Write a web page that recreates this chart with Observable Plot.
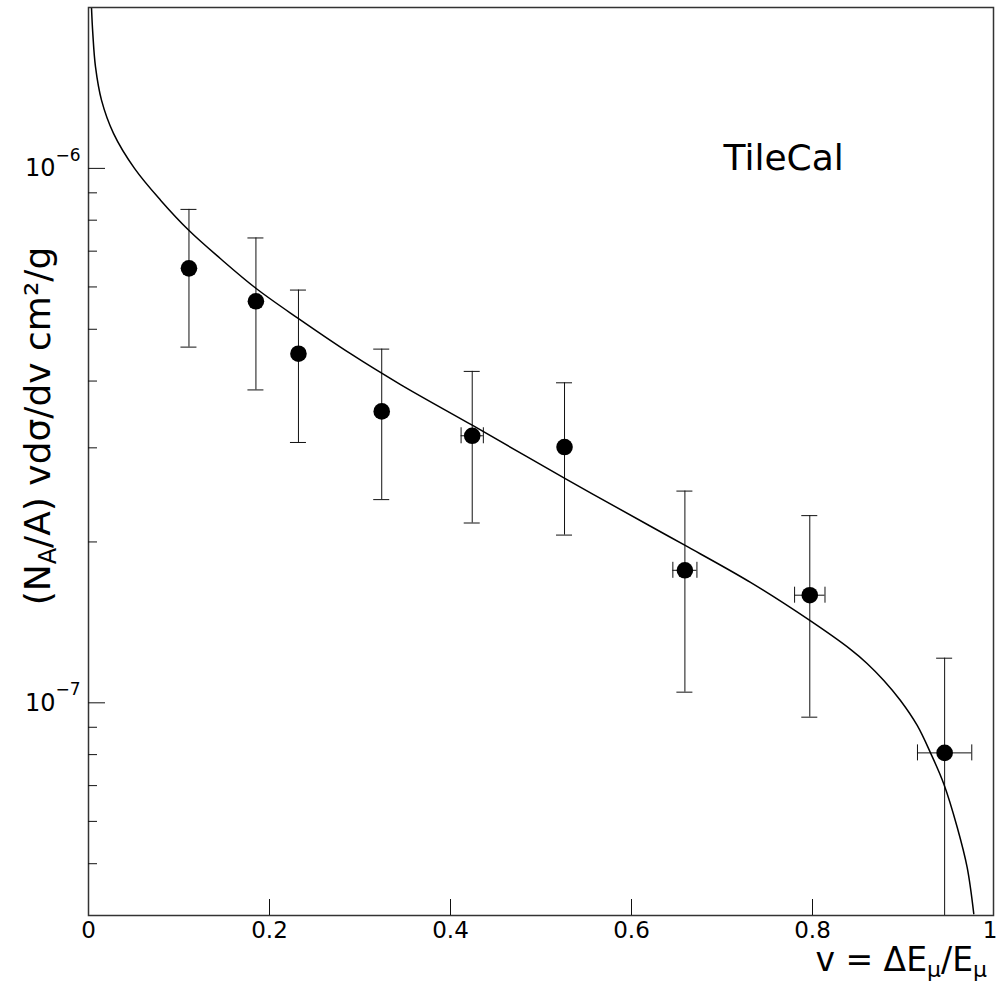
<!DOCTYPE html>
<html>
<head>
<meta charset="utf-8">
<script src="https://cdn.jsdelivr.net/npm/d3@7"></script>
<script src="https://cdn.jsdelivr.net/npm/@observablehq/plot@0.6"></script>
<style>
  html, body { margin: 0; padding: 0; background: #fff; }
  #chart svg { display: block; }
</style>
</head>
<body>
<div id="chart"></div>
<script>
// ---- data ----
const nu     = [0.111, 0.185, 0.232, 0.324, 0.424, 0.526, 0.659, 0.797, 0.946];
const val    = [6.50e-7, 5.64e-7, 4.50e-7, 3.51e-7, 3.16e-7, 3.01e-7, 1.77e-7, 1.59e-7, 8.06e-8];
const errLo  = [4.63e-7, 3.85e-7, 3.07e-7, 2.40e-7, 2.17e-7, 2.06e-7, 1.047e-7, 9.4e-8, 4.0e-8];
const errHi  = [8.38e-7, 7.41e-7, 5.92e-7, 4.59e-7, 4.17e-7, 3.97e-7, 2.49e-7, 2.24e-7, 1.212e-7];
const nuErr  = [0, 0, 0, 0, 0.0123, 0, 0.0133, 0.0168, 0.030];

const curveNu  = [0.0033, 0.00475, 0.0077, 0.01436, 0.02762, 0.05083, 0.0796, 0.1108, 0.1453, 0.1853, 0.2317, 0.2895, 0.3448, 0.424, 0.5263, 0.621, 0.6593, 0.7315, 0.797, 0.842, 0.8603, 0.8788, 0.8972, 0.9157, 0.9304, 0.9451, 0.9599, 0.9709, 0.9782];
const curveVal = [2.0e-6, 1.789e-6, 1.55e-6, 1.342e-6, 1.163e-6, 1.0e-6, 8.72e-7, 7.66e-7, 6.79e-7, 5.96e-7, 5.24e-7, 4.50e-7, 3.94e-7, 3.307e-7, 2.63e-7, 2.14e-7, 1.97e-7, 1.680e-7, 1.426e-7, 1.259e-7, 1.185e-7, 1.101e-7, 1.010e-7, 9.07e-8, 8.06e-8, 7.05e-8, 5.85e-8, 4.92e-8, 4.03e-8];

const xDomain = [0, 1];
const yDomain = [4e-8, 2e-6];
const xTicks = [0, 0.2, 0.4, 0.6, 0.8, 1];
const xTickLabels = ["0", "0.2", "0.4", "0.6", "0.8", "1"];
const yMajor = [1e-7, 1e-6];
const yMajorBase = ["10", "10"];
const yMajorExp = ["\u22127", "\u22126"];
const yMinor = [5e-8, 6e-8, 7e-8, 8e-8, 9e-8, 2e-7, 3e-7, 4e-7, 5e-7, 6e-7, 7e-7, 8e-7, 9e-7];
const annotation = {text: "TileCal", v: 0.7017, y: 9.93e-7};

// ---- tables ----
const points = nu.map((v, i) => ({v, y: val[i], lo: errLo[i], hi: errHi[i], xe: nuErr[i]}));
const xErrPts = points.filter(d => d.xe > 0);
const curve = curveNu.map((v, i) => ({v, y: curveVal[i]}));
const innerXTicks = xTicks.filter(t => t > 0 && t < 1);
const xLabelIdx = xTicks.map((t, i) => i);
const lastIdx = xTicks.length - 1;

const ink = "#111";

const svg = Plot.plot({
  width: 997,
  height: 996,
  marginLeft: 88,
  marginRight: 4,
  marginTop: 7,
  marginBottom: 81,
  style: {fontFamily: "DejaVu Sans", background: "#fff", color: ink},
  x: {domain: xDomain, axis: null},
  y: {type: "log", domain: yDomain, axis: null},
  marks: [
    // error bars
    Plot.ruleX(points, {x: "v", y1: "lo", y2: "hi", stroke: ink, strokeWidth: 1}),
    Plot.ruleY(points, {y: "hi", x1: "v", x2: "v", insetLeft: -8, insetRight: -8, stroke: ink, strokeWidth: 1}),
    Plot.ruleY(points, {y: "lo", x1: "v", x2: "v", insetLeft: -8, insetRight: -8, stroke: ink, strokeWidth: 1}),
    Plot.ruleY(xErrPts, {y: "y", x1: d => d.v - d.xe, x2: d => d.v + d.xe, stroke: ink, strokeWidth: 1}),
    Plot.ruleX(xErrPts, {x: d => d.v - d.xe, y1: "y", y2: "y", insetTop: -8, insetBottom: -8, stroke: ink, strokeWidth: 1}),
    Plot.ruleX(xErrPts, {x: d => d.v + d.xe, y1: "y", y2: "y", insetTop: -8, insetBottom: -8, stroke: ink, strokeWidth: 1}),
    // theory curve
    Plot.line(curve, {x: "v", y: "y", stroke: "#000", strokeWidth: 1.5, curve: "catmull-rom", clip: true}),
    // data points
    Plot.dot(points, {x: "v", y: "y", r: 8.3, fill: "#000", stroke: null}),
    // frame
    Plot.frame({stroke: "#333", strokeWidth: 1.5}),
    // inward ticks
    Plot.ruleX(innerXTicks, {x: d => d, y1: () => yDomain[0], y2: () => yDomain[0], insetTop: -16, stroke: ink, strokeWidth: 1}),
    Plot.ruleY(yMajor, {y: d => d, x1: () => xDomain[0], x2: () => xDomain[0], insetRight: -17, stroke: ink, strokeWidth: 1}),
    Plot.ruleY(yMinor, {y: d => d, x1: () => xDomain[0], x2: () => xDomain[0], insetRight: -9, stroke: ink, strokeWidth: 1}),
    // tick labels
    Plot.text(xLabelIdx.filter(i => i < lastIdx), {x: i => xTicks[i], frameAnchor: "bottom", text: i => xTickLabels[i], dy: 22, fontSize: 23, fill: "#000"}),
    Plot.text([lastIdx], {x: i => xTicks[i], frameAnchor: "bottom", text: i => xTickLabels[i], textAnchor: "end", dx: 4, dy: 22, fontSize: 23, fill: "#000"}),
    Plot.text(yMajor, {y: d => d, frameAnchor: "left", text: (d, i) => yMajorBase[i], textAnchor: "end", dx: -33, fontSize: 24, fill: "#000"}),
    Plot.text(yMajor, {y: d => d, frameAnchor: "left", text: (d, i) => yMajorExp[i], textAnchor: "end", dx: -8, dy: -13, fontSize: 17, fill: "#000"}),
    // annotation
    Plot.text([annotation], {x: "v", y: "y", text: "text", textAnchor: "start", lineAnchor: "bottom", fontSize: 36, fill: "#000"})
  ]
});

// axis titles with sub/superscripts
const s = d3.select(svg);
const yl = s.append("text")
  .attr("transform", "translate(50,426) rotate(-90)")
  .attr("text-anchor", "middle")
  .attr("font-family", "DejaVu Sans")
  .attr("font-size", 36)
  .attr("fill", "#000");
yl.append("tspan").text("(N");
yl.append("tspan").attr("font-size", 24).attr("dy", 6).text("A");
yl.append("tspan").attr("dy", -6).text("/A) vd\u03c3/dv cm\u00b2/g");

const xl = s.append("text")
  .attr("x", 987)
  .attr("y", 971)
  .attr("text-anchor", "end")
  .attr("font-family", "DejaVu Sans")
  .attr("font-size", 33)
  .attr("fill", "#000");
xl.append("tspan").text("v = \u0394E");
xl.append("tspan").attr("font-size", 22).attr("dy", 6).text("\u03bc");
xl.append("tspan").attr("dy", -6).text("/E");
xl.append("tspan").attr("font-size", 22).attr("dy", 6).text("\u03bc");

document.getElementById("chart").appendChild(svg);
</script>
</body>
</html>
